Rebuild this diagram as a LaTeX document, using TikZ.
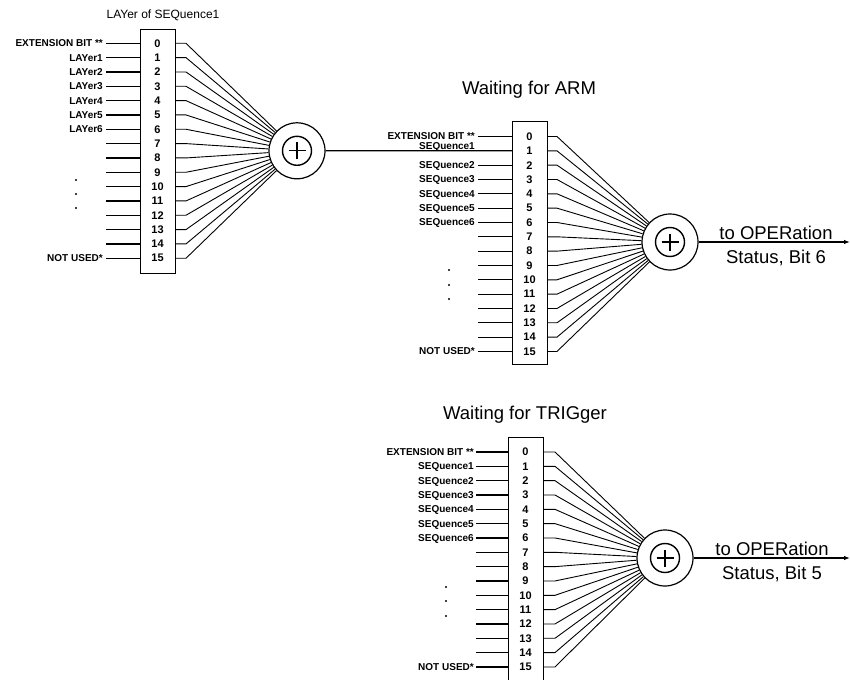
\documentclass[tikz,border=0pt]{standalone}
\usepackage{fontspec}
\setmainfont{Liberation Sans}
\usetikzlibrary{arrows.meta}
\tikzset{
  regbox/.style={draw, line width=1.2pt, minimum width=35pt, inner sep=0pt, anchor=north west},
  num/.style={font=\bfseries\fontsize{11}{12}\selectfont, inner sep=0pt},
  lab/.style={font=\bfseries\fontsize{10}{12}\selectfont, inner sep=0pt, anchor=east, text height=7pt, text depth=0pt},
  inl/.style={line width=1.2pt},
  fan/.style={line width=0.9pt},
  sumout/.style={circle, draw, line width=1.2pt, minimum size=56pt, inner sep=0pt},
  sumin/.style={circle, draw, line width=1.4pt, minimum size=29pt, inner sep=0pt},
  ttl/.style={font=\fontsize{18.5}{22}\selectfont, inner sep=0pt},
  dotmark/.style={fill=black},
}
\newcommand\regblk[9]{%
  % #1 name, #2 box left, #3 top, #4 bottom, #5 row0 y, #6 input start, #7 stub end, #8 cx, #9 cy
  \node[regbox, minimum height={(#4)-(#3)}] (#1box) at (#2,#3) {};
  \node[sumout] (#1c) at (#8,#9) {};
  \node[sumin] (#1ci) at (#8,#9) {};
  \draw[line width=1.2pt] ([xshift=-8.5pt]#1ci.center) -- ([xshift=8.5pt]#1ci.center);
  \draw[line width=1.2pt] ([yshift=-8.5pt]#1ci.center) -- ([yshift=8.5pt]#1ci.center);
  \foreach \i in {0,...,15} {
    \pgfmathsetmacro\ry{#5+14.33*\i}
    \coordinate (#1in\i) at (#6,\ry);
    \coordinate (#1l\i) at (#2,\ry);
    \coordinate (#1r\i) at (#2+35,\ry);
    \coordinate (#1s\i) at (#7,\ry);
    \node[num] (#1n\i) at (#2+17.5,\ry) {\i};
    \draw[fan] (#1r\i) -- (#1s\i) -- (#1c);
  }
}
\begin{document}
\begin{tikzpicture}[x=1pt,y=-1pt]
\useasboundingbox (0,0) rectangle (850,679);

% ---------- Block 1: LAYer of SEQuence1
\node[font=\fontsize{12}{14}\selectfont, inner sep=0pt] (t1) at (163,15) {LAYer of SEQuence1};
\regblk{b1}{140}{29}{273}{43.3}{106}{186}{297}{150.8}
\foreach \i in {0,...,15} \draw[inl] (b1in\i) -- (b1l\i);
\node[lab] (b1lab0) at (103,43.3) {EXTENSION BIT **};
\foreach \i in {1,...,6} {
  \pgfmathsetmacro\ry{43.3+14.33*\i}
  \node[lab] (b1lab\i) at (103,\ry) {LAYer\i};
}
\node[lab] (b1lab15) at (103,{43.3+14.33*15}) {NOT USED*};
\foreach \yy in {180,194,208} \fill[dotmark] (76,\yy) circle (1.1);

% ---------- Block 2: Waiting for ARM
\node[ttl] (t2) at (529,90) {Waiting for ARM};
\regblk{b2}{512}{121}{364}{136.5}{478}{557}{670}{242}
\foreach \i in {0,2,3,...,15} \draw[inl] (b2in\i) -- (b2l\i);
\draw[inl] (b1c) -- (b2l1);
\node[lab] (b2lab0) at (475,136.5) {EXTENSION BIT **};
\node[lab, anchor=base east] (b2lab1) at (475,{136.5+14.33-1.5}) {SEQuence1};
\foreach \i in {2,...,6} {
  \pgfmathsetmacro\ry{136.5+14.33*\i}
  \node[lab] (b2lab\i) at (475,\ry) {SEQuence\i};
}
\node[lab] (b2lab15) at (475,{136.5+14.33*15}) {NOT USED*};
\foreach \yy in {270,285,299} \fill[dotmark] (449,\yy) circle (1.1);
\coordinate (b2out) at (850,242);
\draw[inl, -{Latex[length=6pt,width=4.5pt]}] (b2c) -- (b2out);
\node[ttl, anchor=base] (b2o1) at (776,239) {to OPERation};
\node[ttl, anchor=base] (b2o2) at (776,263) {Status, Bit 6};

% ---------- Block 3: Waiting for TRIGger
\node[ttl] (t3) at (525,415) {Waiting for TRIGger};
\regblk{b3}{508}{437}{690}{452}{476}{555}{665}{558}
\foreach \i in {0,...,15} \draw[inl] (b3in\i) -- (b3l\i);
\node[lab] (b3lab0) at (474,452) {EXTENSION BIT **};
\foreach \i in {1,...,6} {
  \pgfmathsetmacro\ry{452+14.33*\i}
  \node[lab] (b3lab\i) at (474,\ry) {SEQuence\i};
}
\node[lab] (b3lab15) at (474,{452+14.33*15}) {NOT USED*};
\foreach \yy in {587,601,616} \fill[dotmark] (446,\yy) circle (1.1);
\coordinate (b3out) at (850,558);
\draw[inl, -{Latex[length=6pt,width=4.5pt]}] (b3c) -- (b3out);
\node[ttl, anchor=base] (b3o1) at (772,555) {to OPERation};
\node[ttl, anchor=base] (b3o2) at (772,579) {Status, Bit 5};
\end{tikzpicture}
\end{document}
